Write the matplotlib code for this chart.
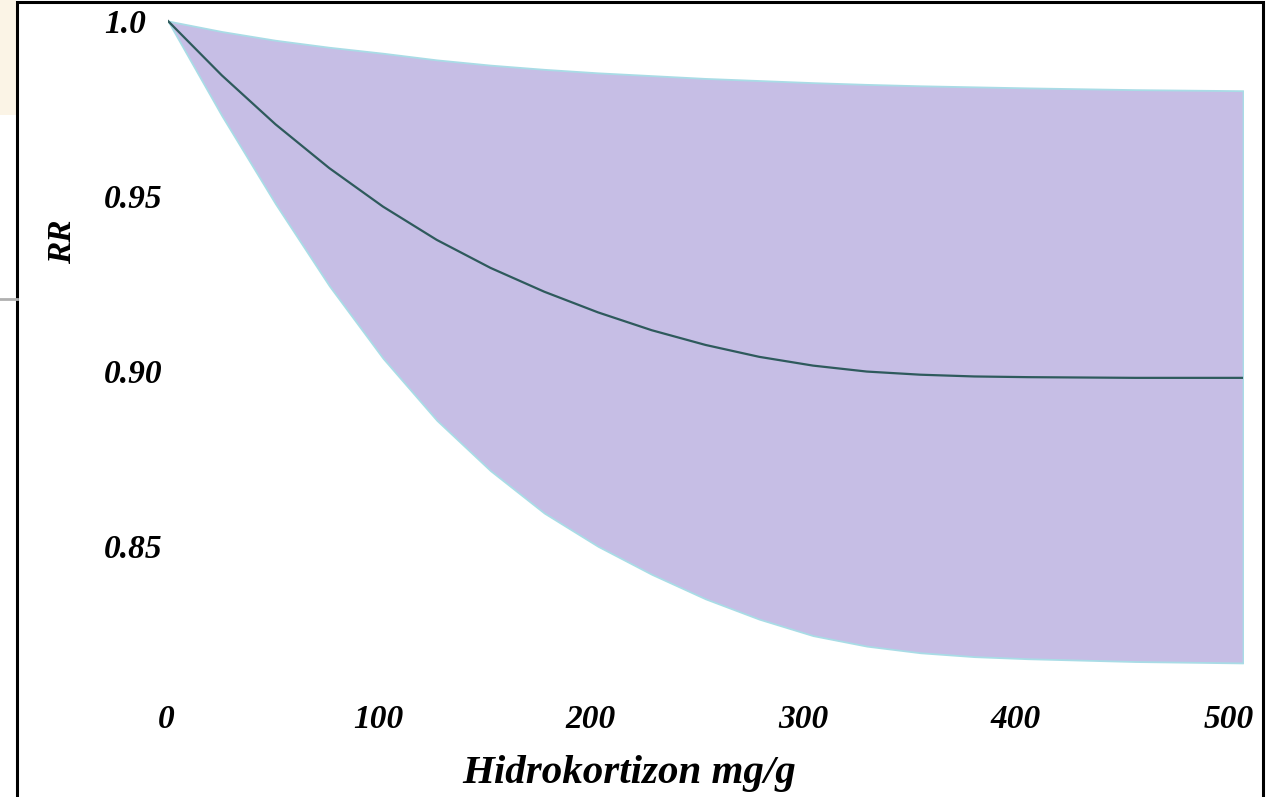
import numpy as np
from matplotlib import pyplot as plt
from matplotlib.patches import Rectangle
from matplotlib.transforms import ScaledTranslation

# --- data ---
doz = [0, 25, 50, 75, 100, 125, 150, 175, 200, 225, 250, 275, 300,
       325, 350, 375, 400, 450, 500]
rr = [1.000, 0.9845, 0.9705, 0.9580, 0.9470, 0.9375, 0.9295, 0.9227, 0.9168,
      0.9117, 0.9075, 0.9041, 0.9016, 0.8999, 0.8990, 0.8985, 0.8983, 0.8981,
      0.8981]
alt = [1.000, 0.9730, 0.9478, 0.9244, 0.9037, 0.8860, 0.8716, 0.8595, 0.8500,
       0.8420, 0.8350, 0.8292, 0.8245, 0.8215, 0.8196, 0.8185, 0.8179, 0.8171,
       0.8167]
ust = [1.000, 0.9970, 0.9945, 0.9925, 0.9908, 0.9889, 0.9874, 0.9862, 0.9852,
       0.9844, 0.9836, 0.9830, 0.9824, 0.9819, 0.9815, 0.9812, 0.9809, 0.9804,
       0.9801]

xticks = [0, 100, 200, 300, 400, 500]
yticks = [0.85, 0.90, 0.95, 1.0]
ylabels = ['0.85', '0.90', '0.95', '1.0']

W, H = 1281, 797
fig = plt.figure(figsize=(W / 100, H / 100), dpi=100)
fig.patch.set_facecolor('white')

# bits of the screenshot around the frame
fig.patches.append(Rectangle((0, 1 - 115 / H), 16 / W, 115 / H, transform=fig.transFigure,
                             facecolor='#FBF4E6', edgecolor='none'))
fig.add_artist(plt.Line2D([0, 17 / W], [1 - 299 / H, 1 - 299 / H], transform=fig.transFigure,
                          color='#B0B0B0', lw=2))
fig.patches.append(Rectangle((17 / W, -0.01), (1263 - 17) / W, 1.0 - 1.5 / H + 0.01,
                             transform=fig.transFigure, facecolor='none',
                             edgecolor='black', lw=2.2))

ax = fig.add_axes([168 / W, 1 - 690 / H, (1243 - 168) / W, (690 - 10) / H])
ax.fill_between(doz, alt, ust, facecolor='#C6BEE5', edgecolor='#A9DCE6', lw=1.3)
ax.plot(doz, rr, color='#2E5A5C', lw=1.6)

ax.set_xlim(0, 500)
ax.set_ylim(0.80897, 1.00314)
for s in ax.spines.values():
    s.set_visible(False)

fnt = dict(family='Liberation Serif', weight='bold', style='italic')
ax.set_xticks(xticks)
ax.set_xticklabels([str(v) for v in xticks], fontsize=24, **fnt)
ax.set_yticks(yticks)
ax.set_yticklabels(ylabels, fontsize=24, ha='left', **fnt)
ax.tick_params(axis='x', length=0, pad=10)
ax.tick_params(axis='y', length=0, pad=46)
# labels sit a little left of their ticks in the original
for i, lab in enumerate(ax.get_xticklabels()):
    dx = -(2 + 2.5 * i) / 100
    lab.set_transform(lab.get_transform() + ScaledTranslation(dx, 0, fig.dpi_scale_trans))

ax.set_xlabel('Hidrokortizon mg/g', fontsize=29.5, **fnt)
ax.xaxis.set_label_coords(0.429, -0.095)
ax.set_ylabel('RR', fontsize=24, **fnt)
ax.yaxis.set_label_coords(-0.0837, 0.659)

plt.savefig('out.png', dpi=100)
